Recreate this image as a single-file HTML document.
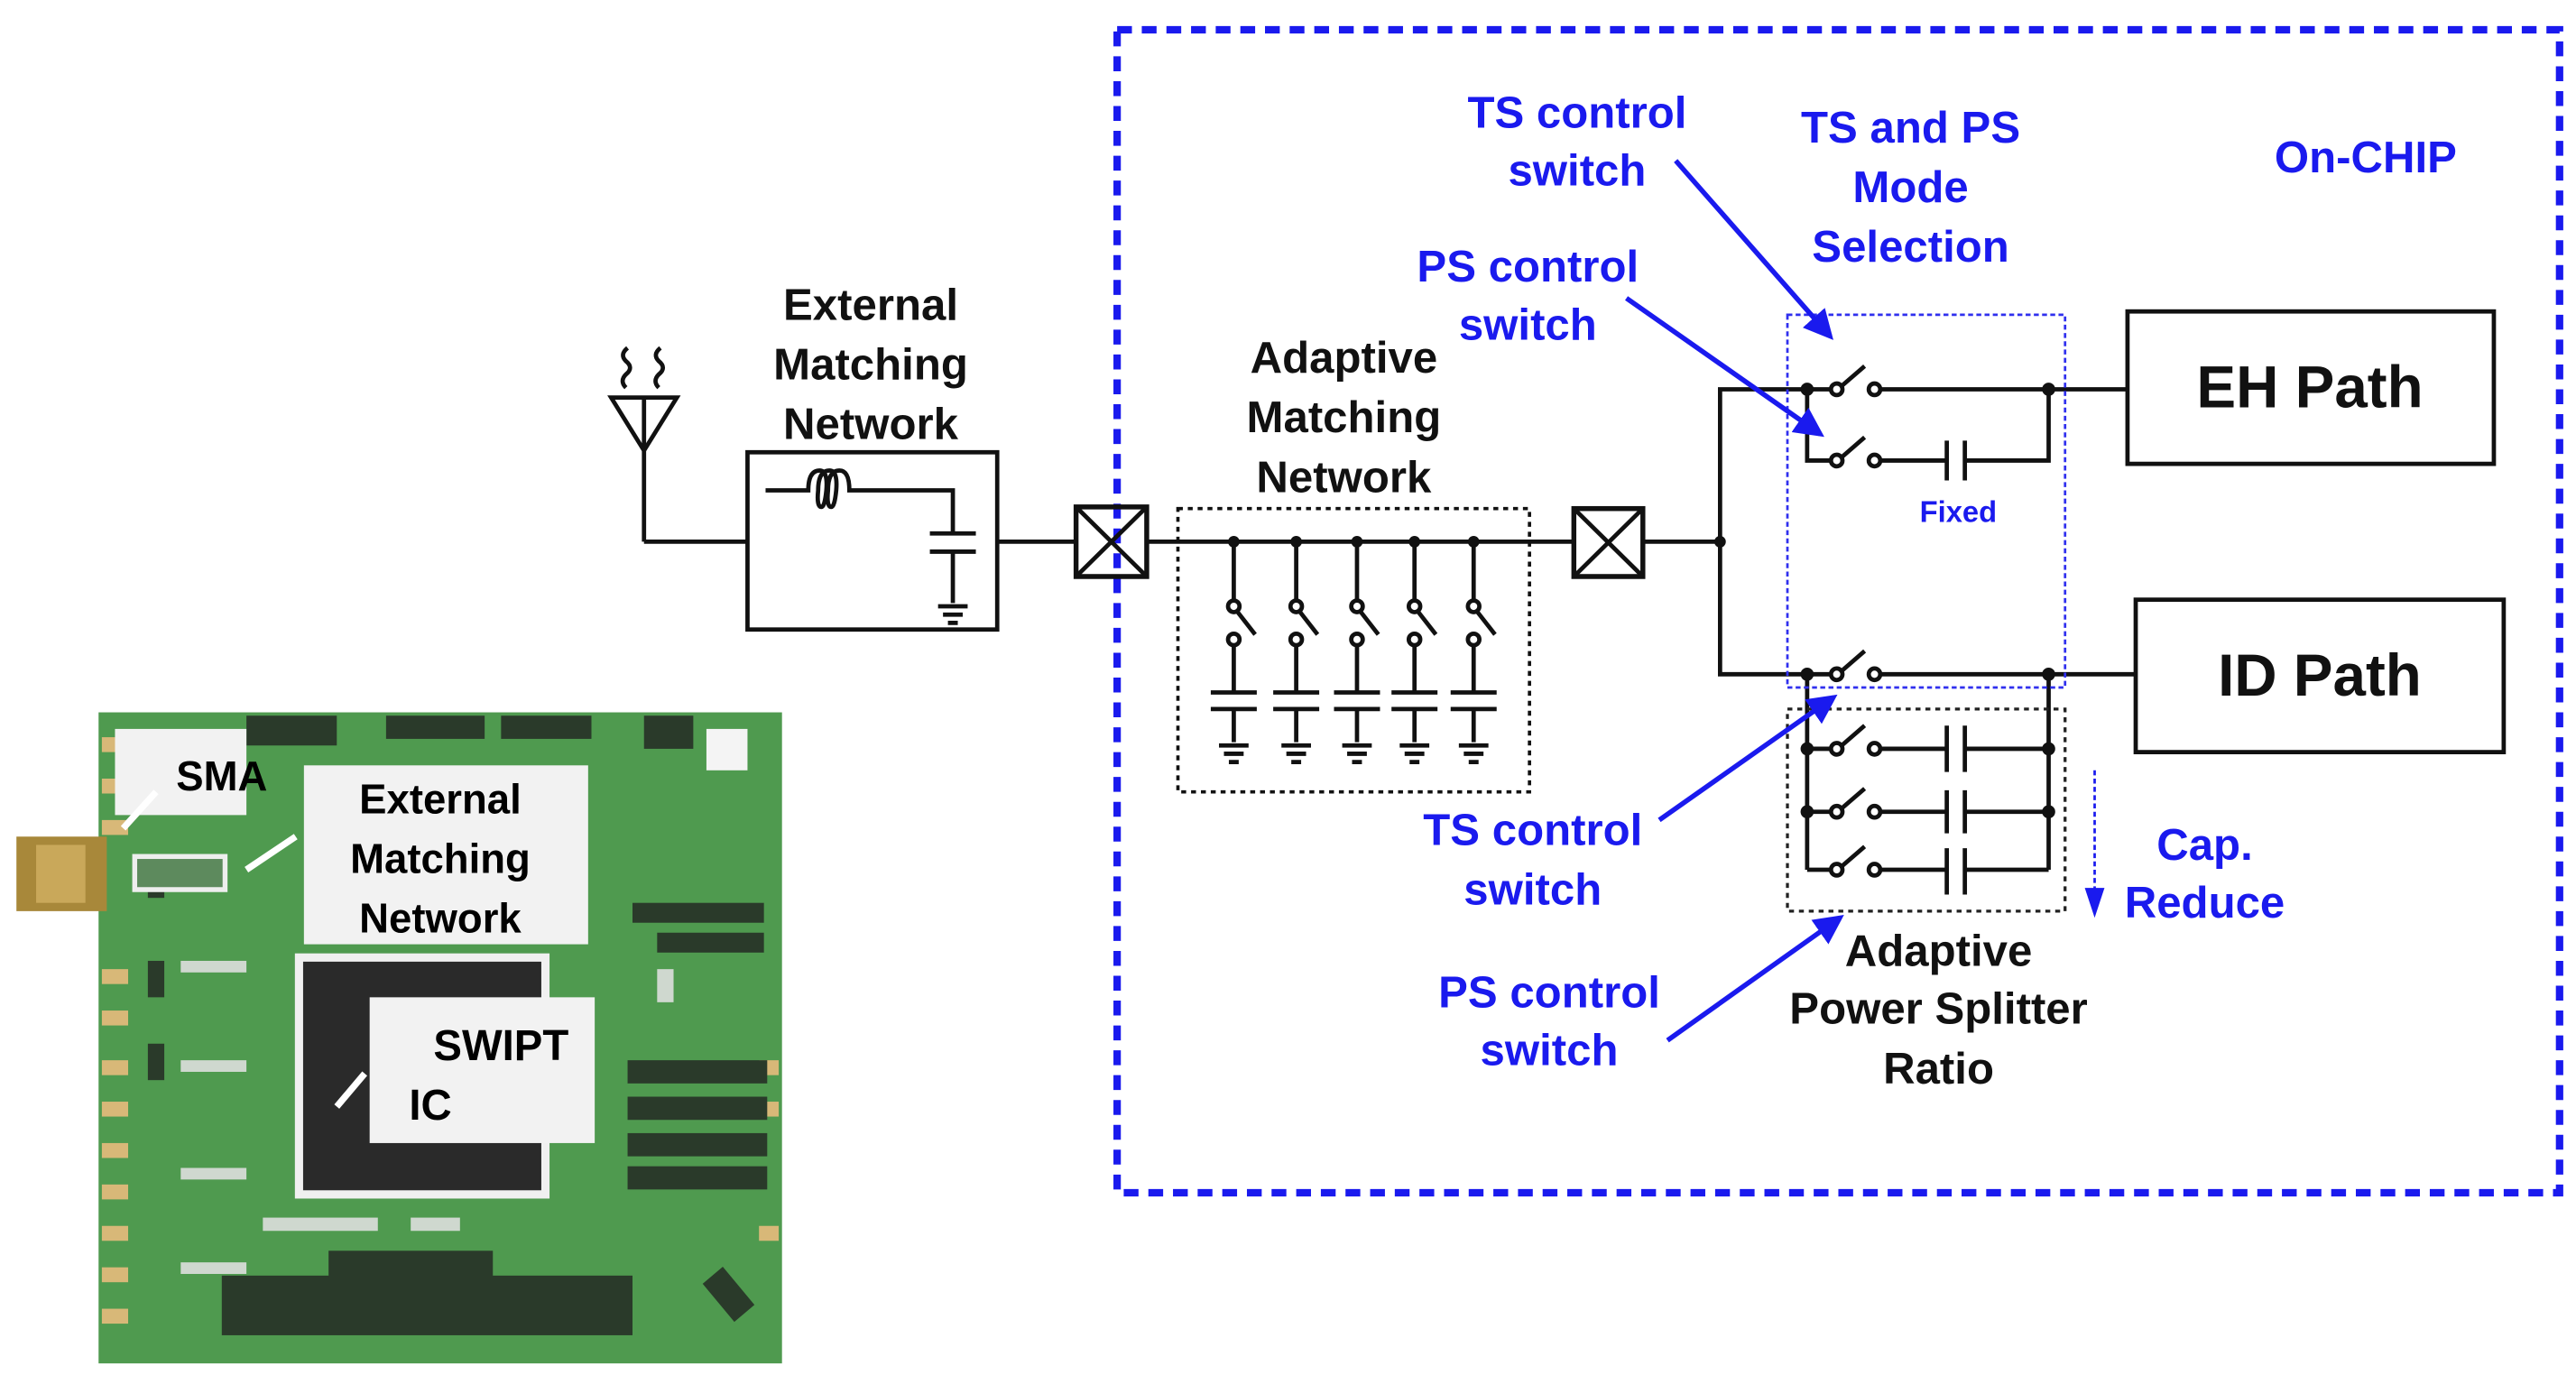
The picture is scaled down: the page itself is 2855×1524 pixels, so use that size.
<!DOCTYPE html>
<html><head><meta charset="utf-8"><style>
html,body{margin:0;padding:0;background:#fff;}
svg{display:block;}
text{font-family:"Liberation Sans",sans-serif;font-weight:bold;}
</style></head><body>
<svg width="2855" height="1524" viewBox="0 0 1568 830" preserveAspectRatio="none" xmlns="http://www.w3.org/2000/svg">
<defs>
<marker id="ah" markerWidth="6" markerHeight="6" refX="5" refY="3" orient="auto" markerUnits="strokeWidth"><path d="M0,0 L6,3 L0,6 z" fill="#1a1aee"/></marker>
<g id="sw" fill="none" stroke="#111" stroke-width="2.6">
<circle cx="0" cy="0" r="3.5" fill="#fff"/><circle cx="23" cy="0" r="3.5" fill="#fff"/>
<line x1="3" y1="-2" x2="17" y2="-14"/>
</g>
<g id="vsw" fill="none" stroke="#111" stroke-width="2.6">
<circle cx="0" cy="0" r="3.5" fill="#fff"/><circle cx="0" cy="20" r="3.5" fill="#fff"/>
<line x1="2" y1="3" x2="13" y2="17"/>
</g>
<g id="gnd" stroke="#111" stroke-width="2.6"><line x1="-9" y1="0" x2="9" y2="0"/><line x1="-6" y1="5" x2="6" y2="5"/><line x1="-3" y1="10" x2="3" y2="10"/></g>
</defs>

<!-- PCB photo -->
<rect x="60" y="430" width="416" height="393" fill="#4f9a4f"/>
<rect x="10" y="505" width="55" height="45" fill="#a8883a"/>
<rect x="22" y="510" width="30" height="35" fill="#c9a85a"/>
<g fill="#d8b878">
<rect x="62" y="445" width="16" height="9"/><rect x="62" y="470" width="16" height="9"/><rect x="62" y="495" width="16" height="9"/>
<rect x="62" y="585" width="16" height="9"/><rect x="62" y="610" width="16" height="9"/><rect x="62" y="640" width="16" height="9"/>
<rect x="62" y="665" width="16" height="9"/><rect x="62" y="690" width="16" height="9"/><rect x="62" y="715" width="16" height="9"/>
<rect x="62" y="740" width="16" height="9"/><rect x="62" y="765" width="16" height="9"/><rect x="62" y="790" width="16" height="9"/>
<rect x="462" y="640" width="12" height="9"/><rect x="462" y="665" width="12" height="9"/><rect x="462" y="740" width="12" height="9"/>
</g>
<g fill="#2a3a2a">
<rect x="150" y="432" width="55" height="18"/><rect x="235" y="432" width="60" height="14"/><rect x="305" y="432" width="55" height="14"/><rect x="392" y="432" width="30" height="20"/>
<rect x="382" y="640" width="85" height="14"/><rect x="382" y="662" width="85" height="14"/><rect x="382" y="684" width="85" height="14"/><rect x="382" y="704" width="85" height="14"/>
<rect x="385" y="545" width="80" height="12"/><rect x="400" y="563" width="65" height="12"/>
<rect x="135" y="770" width="250" height="36"/><rect x="200" y="755" width="100" height="16"/>
<rect x="90" y="520" width="10" height="22"/><rect x="90" y="580" width="10" height="22"/><rect x="90" y="630" width="10" height="22"/>
<rect x="435" y="765" width="16" height="30" transform="rotate(-40 445 780)"/>
</g>
<g fill="#cfd8cf">
<rect x="110" y="580" width="40" height="7"/><rect x="110" y="640" width="40" height="7"/><rect x="110" y="705" width="40" height="7"/><rect x="110" y="762" width="40" height="7"/>
<rect x="160" y="735" width="70" height="8"/><rect x="250" y="735" width="30" height="8"/><rect x="400" y="585" width="10" height="20"/>
</g>
<rect x="430" y="440" width="25" height="25" fill="#f4f4f4"/>
<rect x="70" y="440" width="80" height="52" fill="#f2f2f2"/>
<rect x="82" y="517" width="55" height="20" fill="#5d8a5d" stroke="#eee" stroke-width="3"/>
<rect x="185" y="462" width="173" height="108" fill="#f2f2f2"/>
<rect x="182" y="578" width="150" height="143" fill="#2a2a2a" stroke="#f0f0f0" stroke-width="5"/>
<rect x="225" y="602" width="137" height="88" fill="#f2f2f2"/>
<text x="135" y="477" font-size="25" text-anchor="middle" fill="#000">SMA</text>
<text x="268" y="491" font-size="25" text-anchor="middle" fill="#000">External</text>
<text x="268" y="527" font-size="25" text-anchor="middle" fill="#000">Matching</text>
<text x="268" y="563" font-size="25" text-anchor="middle" fill="#000">Network</text>
<text x="305" y="640" font-size="26" text-anchor="middle" fill="#000">SWIPT</text>
<text x="262" y="676" font-size="26" text-anchor="middle" fill="#000">IC</text>
<g stroke="#fff" stroke-width="4" fill="none">
<line x1="95" y1="478" x2="75" y2="500"/><line x1="180" y1="505" x2="150" y2="525"/><line x1="222" y1="648" x2="205" y2="668"/>
</g>

<!-- Blue dashed on-chip box -->
<rect x="680" y="18" width="878" height="702" fill="none" stroke="#1a1aee" stroke-width="4.5" stroke-dasharray="9,6"/>

<!-- Antenna / external network -->
<g stroke="#111" stroke-width="2.6" fill="none">
<path d="M372,240 L412,240 L392,272 Z"/><line x1="392" y1="240" x2="392" y2="327"/>
<path d="M382,210 q-5,4 -1,8 q5,4 0,8 q-4,4 0,8"/><path d="M402,210 q-5,4 -1,8 q5,4 0,8 q-4,4 0,8"/>
<polyline points="392,327 455,327"/>
<rect x="455" y="273" width="152" height="107"/>
<path d="M466,296 L492,296 q0,-12 7,-12 q5,0 4,12 q-1,10 -3,10 q-3,0 -2,-10 q0,-12 7,-12 q5,0 4,12 q-1,10 -3,10 q-3,0 -2,-10 q0,-12 7,-12 q6,0 6,12 L580,296 L580,322"/>
<line x1="566" y1="322" x2="594" y2="322"/><line x1="566" y1="333" x2="594" y2="333"/>
<line x1="580" y1="333" x2="580" y2="364"/>
<line x1="607" y1="327" x2="655" y2="327"/>
<rect x="655" y="306" width="43" height="42" stroke-width="3"/><line x1="655" y1="306" x2="698" y2="348"/><line x1="698" y1="306" x2="655" y2="348"/>
<line x1="698" y1="327" x2="958" y2="327"/>
<rect x="958" y="307" width="42" height="41" stroke-width="3"/><line x1="958" y1="307" x2="1000" y2="348"/><line x1="1000" y1="307" x2="958" y2="348"/>
<line x1="1000" y1="327" x2="1047" y2="327"/>
<polyline points="1295,235 1047,235 1047,407 1300,407"/>
<rect x="1295" y="188" width="223" height="92"/>
<rect x="1300" y="362" width="224" height="92"/>
</g>
<use href="#gnd" x="580" y="366"/>
<rect x="717" y="307" width="214" height="171" fill="none" stroke="#111" stroke-width="2" stroke-dasharray="3,3"/>
<g stroke="#111" stroke-width="2.6">
<g id="tap">
<line x1="751" y1="327" x2="751" y2="362"/><line x1="751" y1="389" x2="751" y2="418"/>
<line x1="737" y1="418" x2="765" y2="418"/><line x1="737" y1="428" x2="765" y2="428"/><line x1="751" y1="428" x2="751" y2="448"/>
</g>
<use href="#tap" x="38"/><use href="#tap" x="75"/><use href="#tap" x="110"/><use href="#tap" x="146"/>
</g>
<g>
<use href="#vsw" x="751" y="366"/><use href="#vsw" x="789" y="366"/><use href="#vsw" x="826" y="366"/><use href="#vsw" x="861" y="366"/><use href="#vsw" x="897" y="366"/>
<use href="#gnd" x="751" y="450"/><use href="#gnd" x="789" y="450"/><use href="#gnd" x="826" y="450"/><use href="#gnd" x="861" y="450"/><use href="#gnd" x="897" y="450"/>
</g>
<g fill="#111">
<circle cx="751" cy="327" r="3.5"/><circle cx="789" cy="327" r="3.5"/><circle cx="826" cy="327" r="3.5"/><circle cx="861" cy="327" r="3.5"/><circle cx="897" cy="327" r="3.5"/>
<circle cx="1047" cy="327" r="3.5"/>
</g>

<!-- Switch network -->
<g stroke="#111" stroke-width="2.6" fill="none">
<polyline points="1100,235 1100,278 1118,278"/>
<polyline points="1141,278 1185,278"/><polyline points="1196,278 1247,278 1247,235"/>
<line x1="1185" y1="266" x2="1185" y2="290"/><line x1="1196" y1="266" x2="1196" y2="290"/>
<line x1="1100" y1="407" x2="1100" y2="525"/><line x1="1247" y1="407" x2="1247" y2="525"/>
<line x1="1100" y1="452" x2="1118" y2="452"/><line x1="1141" y1="452" x2="1185" y2="452"/><line x1="1196" y1="452" x2="1247" y2="452"/>
<line x1="1100" y1="490" x2="1118" y2="490"/><line x1="1141" y1="490" x2="1185" y2="490"/><line x1="1196" y1="490" x2="1247" y2="490"/>
<line x1="1100" y1="525" x2="1118" y2="525"/><line x1="1141" y1="525" x2="1185" y2="525"/><line x1="1196" y1="525" x2="1247" y2="525"/>
<line x1="1185" y1="438" x2="1185" y2="466"/><line x1="1196" y1="438" x2="1196" y2="466"/>
<line x1="1185" y1="477" x2="1185" y2="503"/><line x1="1196" y1="477" x2="1196" y2="503"/>
<line x1="1185" y1="512" x2="1185" y2="540"/><line x1="1196" y1="512" x2="1196" y2="540"/>
</g>
<g fill="#fff" stroke="none"><rect x="1104" y="232" width="36" height="6"/><rect x="1104" y="404" width="36" height="6"/></g>
<use href="#sw" x="1118" y="235"/><use href="#sw" x="1118" y="278"/><use href="#sw" x="1118" y="407"/>
<use href="#sw" x="1118" y="452"/><use href="#sw" x="1118" y="490"/><use href="#sw" x="1118" y="525"/>
<g stroke="#111" stroke-width="2.6"><line x1="1100" y1="235" x2="1114" y2="235"/><line x1="1100" y1="407" x2="1114" y2="407"/></g>
<g fill="#111">
<circle cx="1100" cy="235" r="4"/><circle cx="1247" cy="235" r="4"/><circle cx="1100" cy="407" r="4"/><circle cx="1247" cy="407" r="4"/>
<circle cx="1100" cy="452" r="4"/><circle cx="1247" cy="452" r="4"/><circle cx="1100" cy="490" r="4"/><circle cx="1247" cy="490" r="4"/>
</g>
<rect x="1088" y="190" width="169" height="225" fill="none" stroke="#3030ee" stroke-width="1.5" stroke-dasharray="3,2"/>
<rect x="1088" y="428" width="169" height="122" fill="none" stroke="#222" stroke-width="1.8" stroke-dasharray="3,3"/>
<line x1="1275" y1="465" x2="1275" y2="540" stroke="#1a1aee" stroke-width="1.5" stroke-dasharray="3,2"/>
<path d="M1269,536 L1281,536 L1275,554 Z" fill="#1a1aee"/>

<!-- Blue arrows -->
<g stroke="#1a1aee" stroke-width="3" fill="none">
<line x1="1020" y1="97" x2="1114" y2="203" marker-end="url(#ah)"/>
<line x1="990" y1="180" x2="1108" y2="262" marker-end="url(#ah)"/>
<line x1="1010" y1="495" x2="1116" y2="421" marker-end="url(#ah)"/>
<line x1="1015" y1="628" x2="1120" y2="554" marker-end="url(#ah)"/>
</g>

<!-- Texts -->
<g fill="#111" font-size="27" text-anchor="middle">
<text x="530" y="193">External</text><text x="530" y="229">Matching</text><text x="530" y="265">Network</text>
<text x="818" y="225">Adaptive</text><text x="818" y="261">Matching</text><text x="818" y="297">Network</text>
<text x="1180" y="583">Adaptive</text><text x="1180" y="618">Power Splitter</text><text x="1180" y="654">Ratio</text>
<text x="1406" y="246" font-size="36">EH Path</text>
<text x="1412" y="420" font-size="36">ID Path</text>
</g>
<g fill="#1a1aee" font-size="27" text-anchor="middle">
<text x="960" y="77">TS control</text><text x="960" y="112">switch</text>
<text x="1163" y="86">TS and PS</text><text x="1163" y="122">Mode</text><text x="1163" y="158">Selection</text>
<text x="1440" y="104">On-CHIP</text>
<text x="930" y="170">PS control</text><text x="930" y="205">switch</text>
<text x="933" y="510">TS control</text><text x="933" y="546">switch</text>
<text x="943" y="608">PS control</text><text x="943" y="643">switch</text>
<text x="1342" y="519">Cap.</text><text x="1342" y="554">Reduce</text>
<text x="1192" y="315" font-size="18">Fixed</text>
</g>
</svg>
</body></html>
